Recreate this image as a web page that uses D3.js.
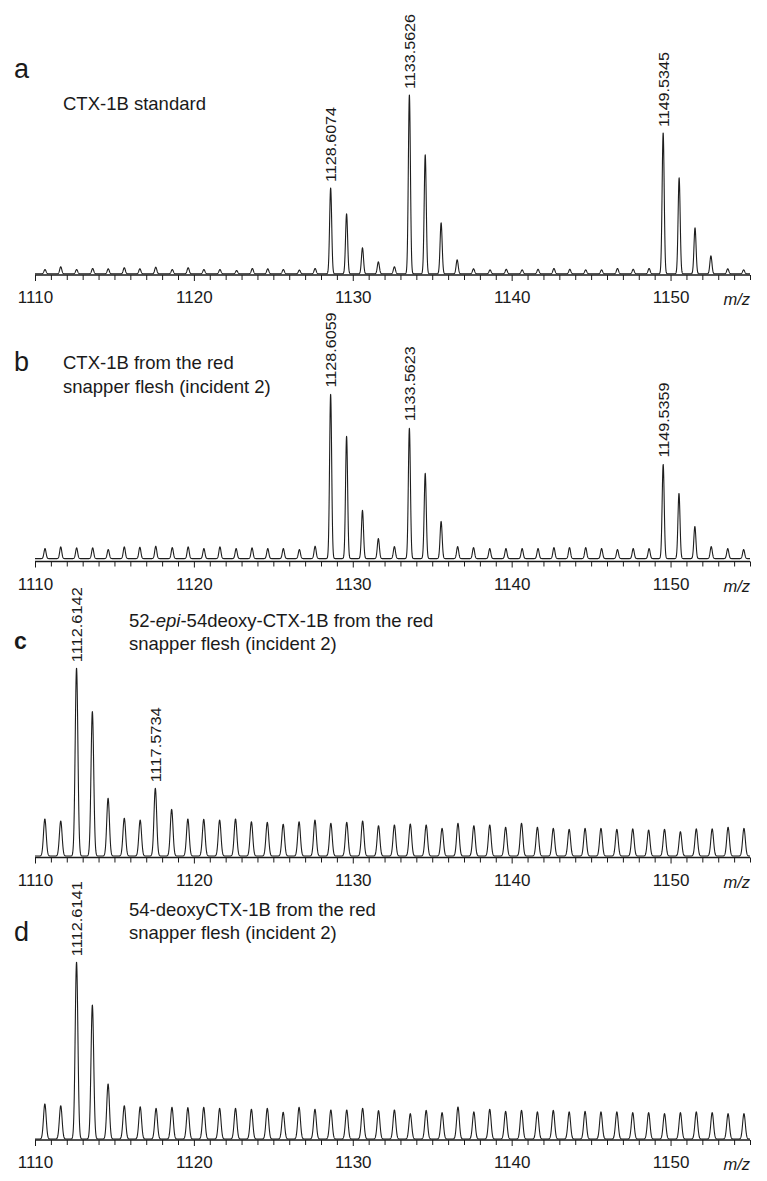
<!DOCTYPE html>
<html>
<head>
<meta charset="utf-8">
<script src="https://cdn.jsdelivr.net/npm/d3@7"></script>
<style>
  html, body { margin: 0; padding: 0; background: #fff; }
  svg { display: block; }
  text { font-family: "Liberation Sans", Arial, Helvetica, sans-serif; fill: #1a1a1a; }
</style>
</head>
<body>
<svg id="chart" width="767" height="1181"></svg>
<script>
// ---------------- DATA ----------------
// x-axis
const xDomain = [1110, 1155];
const majorTicks = [1110, 1120, 1130, 1140, 1150];
const axisTitle = "m/z";

// Panel a: CTX-1B standard (relative intensity, %)
const aMz = [1110.63, 1111.62, 1112.62, 1113.63, 1114.61, 1115.62, 1116.60, 1117.60, 1118.64, 1119.64,
             1120.63, 1121.64, 1122.69, 1123.68, 1124.65, 1125.63, 1126.64, 1127.63, 1128.6074, 1129.61,
             1130.61, 1131.61, 1132.62, 1133.5626, 1134.56, 1135.56, 1136.57, 1137.60, 1138.64, 1139.66,
             1140.66, 1141.66, 1142.66, 1143.66, 1144.66, 1145.66, 1146.66, 1147.65, 1148.65, 1149.5345,
             1150.54, 1151.54, 1152.54, 1153.60, 1154.60];
const aInt = [2.4, 3.9, 2.4, 3.0, 2.8, 3.4, 2.8, 3.7, 2.4, 3.4,
              2.4, 2.4, 1.8, 3.0, 2.8, 2.4, 2.1, 3.0, 48.0, 33.5,
              14.5, 6.7, 3.9, 100, 66.5, 28.5, 7.8, 2.8, 2.2, 2.5,
              2.2, 2.5, 3.0, 2.5, 2.2, 2.2, 3.0, 2.5, 3.0, 78.8,
              53.6, 25.7, 10.0, 2.8, 2.2];
const aLabels = ["1128.6074", "1133.5626", "1149.5345"];

// Panel b: CTX-1B from red snapper flesh
const bMz = [1110.63, 1111.62, 1112.62, 1113.63, 1114.61, 1115.62, 1116.60, 1117.60, 1118.64, 1119.64,
             1120.63, 1121.64, 1122.66, 1123.66, 1124.65, 1125.63, 1126.64, 1127.63, 1128.6059, 1129.61,
             1130.61, 1131.61, 1132.62, 1133.5623, 1134.56, 1135.56, 1136.60, 1137.60, 1138.62, 1139.64,
             1140.66, 1141.66, 1142.66, 1143.64, 1144.66, 1145.66, 1146.66, 1147.65, 1148.65, 1149.5359,
             1150.53, 1151.53, 1152.56, 1153.60, 1154.60];
const bInt = [6.1, 7.1, 6.5, 6.5, 5.5, 7.1, 6.9, 7.5, 6.7, 7.1,
              6.1, 7.1, 6.1, 6.5, 6.1, 6.1, 5.5, 7.5, 100, 74.4,
              29.3, 12.2, 7.3, 79.3, 51.8, 22.6, 7.3, 6.7, 6.1, 6.1,
              6.1, 6.1, 6.7, 6.7, 6.7, 6.1, 5.5, 6.1, 6.1, 57.3,
              39.6, 19.5, 7.3, 6.1, 5.5];
const bLabels = ["1128.6059", "1133.5623", "1149.5359"];

// Panel c: 52-epi-54deoxy-CTX-1B
const cMz = [1110.62, 1111.62, 1112.6142, 1113.61, 1114.60, 1115.62, 1116.62, 1117.5734, 1118.60, 1119.62,
             1120.62, 1121.62, 1122.62, 1123.62, 1124.62, 1125.62, 1126.62, 1127.62, 1128.62, 1129.62,
             1130.62, 1131.62, 1132.62, 1133.62, 1134.62, 1135.62, 1136.62, 1137.62, 1138.62, 1139.62,
             1140.62, 1141.62, 1142.62, 1143.62, 1144.62, 1145.62, 1146.62, 1147.62, 1148.62, 1149.62,
             1150.62, 1151.62, 1152.62, 1153.62, 1154.62];
const cInt = [19.7, 18.6, 100, 76.8, 30.7, 20.1, 19.1, 36.0, 24.8, 19.7,
              19.5, 19.1, 19.7, 18.2, 17.9, 16.9, 18.2, 19.1, 17.4, 17.9,
              18.6, 16.1, 16.5, 17.0, 16.5, 14.7, 17.4, 16.1, 16.5, 15.3,
              17.4, 15.3, 14.7, 14.2, 14.7, 14.7, 14.2, 14.4, 13.8, 14.2,
              12.9, 14.4, 14.4, 15.3, 14.7];
const cLabels = ["1112.6142", "1117.5734"];

// Panel d: 54-deoxyCTX-1B
const dMz = [1110.62, 1111.62, 1112.6141, 1113.61, 1114.60, 1115.62, 1116.62, 1117.62, 1118.62, 1119.62,
             1120.62, 1121.62, 1122.62, 1123.62, 1124.62, 1125.62, 1126.62, 1127.62, 1128.62, 1129.62,
             1130.62, 1131.62, 1132.62, 1133.62, 1134.62, 1135.62, 1136.62, 1137.62, 1138.62, 1139.62,
             1140.62, 1141.62, 1142.62, 1143.62, 1144.62, 1145.62, 1146.62, 1147.62, 1148.62, 1149.62,
             1150.62, 1151.62, 1152.62, 1153.62, 1154.62];
const dInt = [19.8, 18.8, 100, 75.7, 31.1, 18.8, 18.2, 17.3, 17.9, 17.7,
              17.9, 17.3, 17.3, 16.8, 17.3, 15.1, 17.9, 16.8, 16.4, 16.4,
              17.3, 16.0, 16.4, 14.3, 16.2, 14.9, 18.1, 15.3, 16.8, 15.6,
              16.2, 15.3, 16.2, 15.3, 15.6, 15.3, 15.3, 14.9, 14.9, 14.3,
              14.9, 15.3, 14.9, 14.3, 14.3];
const dLabels = ["1112.6141"];

// Panel letters & descriptions
const panelLetters = ["a", "b", "c", "d"];
const panelTitles = [
  [["CTX-1B standard"]],
  [["CTX-1B from the red"], ["snapper flesh (incident 2)"]],
  [["52-", "epi", "-54deoxy-CTX-1B from the red"], ["snapper flesh (incident 2)"]],
  [["54-deoxyCTX-1B from the red"], ["snapper flesh (incident 2)"]]
];

// ---------------- LAYOUT ----------------
const panels = [
  { mz: aMz, int: aInt, labels: aLabels, zeroY: 273.8, axisY: 275, full: 179, sigma: 0.065, gap: 6,
    letterY: 78, titleX: 63, titleY: [110], letterSize: 27 },
  { mz: bMz, int: bInt, labels: bLabels, zeroY: 558.6, axisY: 561.5, full: 164.5, sigma: 0.065, gap: 7,
    letterY: 371, titleX: 63, titleY: [369, 392.5], letterSize: 27 },
  { mz: cMz, int: cInt, labels: cLabels, zeroY: 856, axisY: 857.5, full: 188, sigma: 0.085, gap: 6,
    letterY: 649, titleX: 129, titleY: [627, 649.5], letterSize: 23 },
  { mz: dMz, int: dInt, labels: dLabels, zeroY: 1139, axisY: 1140, full: 177, sigma: 0.085, gap: 6,
    letterY: 941, titleX: 129, titleY: [916, 938.5], letterSize: 27 }
];

const svg = d3.select("#chart");
const x = d3.scaleLinear().domain(xDomain).range([35, 750]);
const minorTicks = d3.range(xDomain[0], xDomain[1] + 0.5, 1);
const grid = d3.range(xDomain[0], xDomain[1] + 0.0001, 0.01);

panels.forEach((p, i) => {
  const g = svg.append("g");
  const y = d3.scaleLinear().domain([0, 100]).range([p.zeroY, p.zeroY - p.full]);

  // profile built from peak list
  const profile = grid.map(m => {
    let s = 0;
    for (let k = 0; k < p.mz.length; k++) {
      const d = (m - p.mz[k]) / p.sigma;
      if (Math.abs(d) < 6) s += p.int[k] * Math.exp(-0.5 * d * d);
    }
    return [m, s];
  });

  const line = d3.line().x(d => x(d[0])).y(d => y(d[1]));
  g.append("path")
    .attr("d", line(profile))
    .attr("fill", "none")
    .attr("stroke", "#1e1e1e")
    .attr("stroke-width", 1.1)
    .attr("stroke-linejoin", "round");

  // axis
  const axis = d3.axisBottom(x)
    .tickValues(minorTicks)
    .tickSize(5)
    .tickFormat(d => majorTicks.includes(d) ? d3.format("d")(d) : "");
  const ag = g.append("g").attr("transform", `translate(0,${p.axisY})`).call(axis);
  ag.attr("font-size", null).attr("font-family", null);
  ag.select(".domain").attr("stroke", "#1a1a1a").attr("stroke-width", 1.3)
    .attr("d", `M${x(xDomain[0])},0H${x(xDomain[1])}`);
  ag.selectAll(".tick line").attr("stroke", "#1a1a1a").attr("stroke-width", 1)
    .attr("y2", d => majorTicks.includes(d) ? 6 : 5);
  ag.selectAll(".tick text")
    .attr("y", 0).attr("dy", 0)
    .attr("transform", "translate(0,28)")
    .style("font-size", "17px")
    .attr("fill", "#1a1a1a");

  // axis title
  g.append("text")
    .attr("x", 750).attr("y", p.axisY + 30)
    .attr("text-anchor", "end")
    .style("font-size", "16.5px")
    .style("font-style", "italic")
    .text(axisTitle);

  // panel letter
  g.append("text")
    .attr("x", 14).attr("y", p.letterY)
    .style("font-size", p.letterSize + "px")
    .style("font-weight", i === 2 ? "bold" : "normal")
    .text(panelLetters[i]);

  // title lines
  panelTitles[i].forEach((parts, li) => {
    const t = g.append("text")
      .attr("x", p.titleX).attr("y", p.titleY[li])
      .style("font-size", "18.5px");
    parts.forEach(s => {
      t.append("tspan").style("font-style", s === "epi" ? "italic" : "normal").text(s);
    });
  });

  // peak labels
  p.labels.forEach(lbl => {
    const m = +lbl;
    const near = profile.filter(d => Math.abs(d[0] - m) < 0.15);
    const top = d3.max(near, d => d[1]);
    const px = x(m), py = y(top) - p.gap;
    g.append("text")
      .attr("transform", `translate(${px},${py}) rotate(-90)`)
      .attr("text-anchor", "start")
      .attr("dy", "0.36em")
      .attr("textLength", 75)
      .attr("lengthAdjust", "spacingAndGlyphs")
      .style("font-size", "15px")
      .text(lbl);
  });
});
</script>
</body>
</html>
